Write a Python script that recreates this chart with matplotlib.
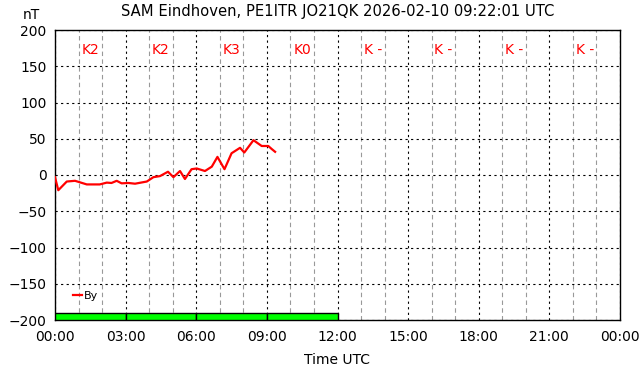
import matplotlib
matplotlib.use('Agg')
import matplotlib.pyplot as plt
import numpy as np

# By component (hours UTC, nT)
hours = [0.0, 0.14, 0.5, 0.85, 1.35, 1.9, 2.2, 2.4, 2.62, 2.83, 3.12, 3.4, 3.9,
         4.18, 4.46, 4.8, 5.03, 5.31, 5.52, 5.8, 6.02, 6.37, 6.66, 6.9, 7.2,
         7.5, 7.86, 8.04, 8.43, 8.78, 9.06, 9.2, 9.35]
by = [-3, -21, -9, -8, -13, -13, -10.5, -11, -8, -11.5, -11, -12, -9,
      -3, -1.5, 4.5, -3, 5.5, -5.5, 8, 9, 5.5, 11.5, 25, 8,
      30, 37.5, 31, 48, 40, 40, 36, 32]

k_labels = ['K2', 'K2', 'K3', 'K0', 'K -', 'K -', 'K -', 'K -']
k_known = [2, 2, 3, 0]

tick_hours = list(range(0, 25, 3))
tick_names = ['00:00', '03:00', '06:00', '09:00', '12:00', '15:00', '18:00', '21:00', '00:00']

fig = plt.figure(figsize=(6.42, 3.76), dpi=100)
ax = fig.add_axes([55/642, 56/376, 565/642, 290/376])

ax.set_xlim(0, 24)
ax.set_ylim(-200, 200)

# grid: black dotted every 3h / 50 nT, grey dashed every hour
ax.set_xticks(tick_hours)
ax.set_xticklabels(tick_names)
ax.set_xticks([h for h in range(1, 24) if h % 3], minor=True)
ax.set_yticks(np.arange(-200, 201, 50))
ax.grid(True, which='major', color='black', linestyle=(0, (2, 3)), linewidth=0.8)
ax.grid(True, which='minor', axis='x', color='#999999', linestyle=(0, (4, 3)), linewidth=0.8)
ax.tick_params(which='both', length=0, labelsize=10)
ax.tick_params(axis='x', pad=7)
ax.tick_params(axis='y', pad=6)

# K index bars
ax.bar([i * 3 for i in range(len(k_known))], [10] * len(k_known), width=3,
       bottom=-200, align='edge', color='#00ff00', edgecolor='black', linewidth=1, zorder=3)

for i, lab in enumerate(k_labels):
    ax.text(i * 3 + 1.5, 172, lab, color='red', fontsize=10, ha='center', va='center')

ax.plot(hours, by, color='red', linewidth=1.6, label='By', zorder=4)

ax.legend(loc='lower left', bbox_to_anchor=(0.015, 0.03), frameon=False, fontsize=8,
          handlelength=0.8, handletextpad=0.1)

ax.set_title('SAM Eindhoven, PE1ITR JO21QK 2026-02-10 09:22:01 UTC', fontsize=10.6, pad=10)
ax.set_xlabel('Time UTC', fontsize=10, labelpad=7)
fig.text(31/642, 1 - 15/376, 'nT', fontsize=10, ha='center', va='center')

for s in ax.spines.values():
    s.set_linewidth(1)

fig.savefig('out.png', dpi=100)
